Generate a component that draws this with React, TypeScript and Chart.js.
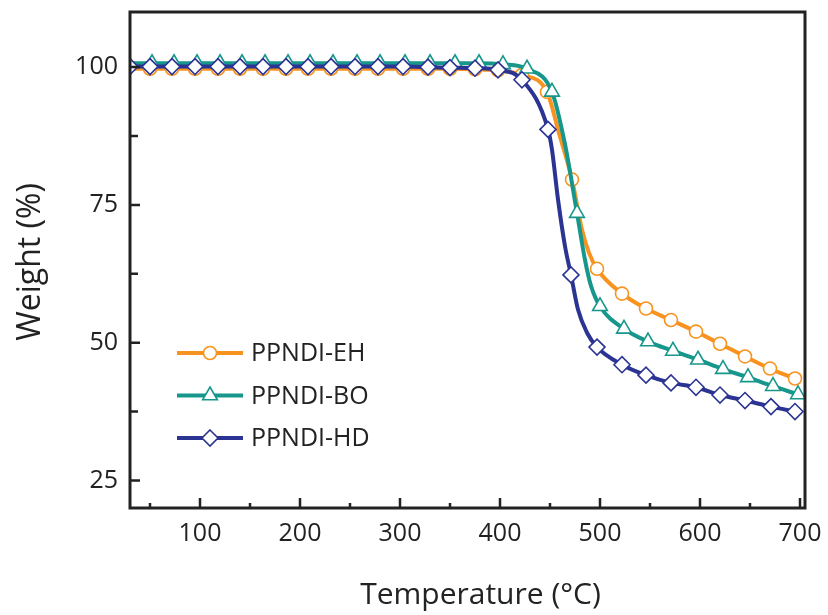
import React, { useEffect, useRef } from 'react';
import { Chart, registerables } from 'chart.js';

Chart.register(...registerables);

// ---- axis ticks ----
const xTicks = [100, 200, 300, 400, 500, 600, 700];
const xMinorTicks = [50, 150, 250, 350, 450, 550, 650];
const yTicks = [25, 50, 75, 100];
const yMinorTicks = [37.5, 62.5, 87.5];
const xRange = [30, 705];
const yRange = [20, 110];

const xTitle = 'Temperature (°C)';
const yTitle = 'Weight (%)';

// ---- series ----
const seriesNames = ['PPNDI-EH', 'PPNDI-BO', 'PPNDI-HD'];
const seriesColors = ['#F7931E', '#17978C', '#2B3493'];
const seriesMarkers = ['circle', 'triangle', 'rectRot'];

// PPNDI-EH : marker points
const ehMarkT = [50, 72, 95, 118, 140, 163, 186, 208, 231, 255, 278, 303, 328, 350, 375, 398, 422, 447, 472, 497, 522, 546, 571, 596, 620, 645, 670, 695];
const ehMarkW = [99.7, 99.7, 99.7, 99.7, 99.7, 99.7, 99.7, 99.7, 99.7, 99.7, 99.7, 99.7, 99.7, 99.7, 99.6, 99.4, 98.6, 95.5, 79.6, 63.4, 58.9, 56.2, 54.1, 52.0, 49.8, 47.5, 45.3, 43.5];
// PPNDI-EH : extra curve points (no marker)
const ehCurveT = [30, 459, 482, 489];
const ehCurveW = [99.7, 88.0, 70.5, 66.3];

// PPNDI-BO : marker points
const boMarkT = [52, 74, 97, 120, 142, 165, 188, 210, 233, 257, 280, 305, 330, 355, 379, 403, 427, 452, 477, 500, 524, 548, 573, 598, 623, 648, 673, 698];
const boMarkW = [100.7, 100.7, 100.7, 100.7, 100.7, 100.7, 100.7, 100.7, 100.7, 100.7, 100.7, 100.7, 100.7, 100.7, 100.7, 100.5, 99.7, 95.5, 73.5, 56.6, 52.5, 50.2, 48.5, 46.9, 45.2, 43.7, 42.1, 40.6];
// PPNDI-BO : extra curve points
const boCurveT = [30, 465, 485, 491];
const boCurveW = [100.7, 86.0, 65.0, 60.3];

// PPNDI-HD : marker points
const hdMarkT = [30, 50, 72, 95, 118, 140, 163, 186, 208, 231, 255, 278, 303, 328, 350, 375, 398, 422, 448, 471, 497, 522, 546, 571, 596, 620, 645, 671, 695];
const hdMarkW = [100.1, 100.1, 100.1, 100.1, 100.1, 100.1, 100.1, 100.1, 100.1, 100.1, 100.1, 100.1, 100.1, 100.0, 99.9, 99.8, 99.5, 97.7, 88.7, 62.3, 49.2, 46.0, 44.1, 42.7, 41.9, 40.5, 39.5, 38.4, 37.5];
// PPNDI-HD : extra curve points
const hdCurveT = [452, 458, 465, 478, 487];
const hdCurveW = [85.0, 76.0, 67.5, 56.0, 51.8];

const markT = [ehMarkT, boMarkT, hdMarkT];
const markW = [ehMarkW, boMarkW, hdMarkW];
const curveT = [ehCurveT, boCurveT, hdCurveT];
const curveW = [ehCurveW, boCurveW, hdCurveW];
const markerRadius = [6.5, 8.5, 8];

const FONT = '"Open Sans", "Liberation Sans", sans-serif';
const INK = '#222222';

function pts(t: number[], w: number[]) {
  return t.map((x, i) => ({ x, y: w[i] }));
}

function drawMarker(ctx: CanvasRenderingContext2D, style: string, r: number, x: number, y: number) {
  ctx.beginPath();
  if (style === 'circle') {
    ctx.arc(x, y, r, 0, Math.PI * 2);
  } else if (style === 'triangle') {
    for (let k = 0; k < 3; k++) {
      const a = -Math.PI / 2 + (k * 2 * Math.PI) / 3;
      const px = x + Math.cos(a) * r;
      const py = y + Math.sin(a) * r;
      if (k === 0) ctx.moveTo(px, py);
      else ctx.lineTo(px, py);
    }
    ctx.closePath();
  } else {
    ctx.moveTo(x, y - r);
    ctx.lineTo(x + r, y);
    ctx.lineTo(x, y + r);
    ctx.lineTo(x - r, y);
    ctx.closePath();
  }
  ctx.fill();
  ctx.stroke();
}

const framePlugin = {
  id: 'frameAndExtras',
  afterDraw(chart: any) {
    const { ctx, chartArea } = chart;
    const xs = chart.scales.x;
    const ys = chart.scales.y;
    const { left, right, top, bottom } = chartArea;
    ctx.save();
    // ticks (inward)
    ctx.strokeStyle = INK;
    ctx.lineWidth = 2.5;
    ctx.beginPath();
    xTicks.forEach((v) => {
      const p = xs.getPixelForValue(v);
      ctx.moveTo(p, bottom);
      ctx.lineTo(p, bottom - 10);
    });
    xMinorTicks.forEach((v) => {
      const p = xs.getPixelForValue(v);
      ctx.moveTo(p, bottom);
      ctx.lineTo(p, bottom - 5);
    });
    yTicks.forEach((v) => {
      const p = ys.getPixelForValue(v);
      ctx.moveTo(left, p);
      ctx.lineTo(left + 10, p);
    });
    yMinorTicks.forEach((v) => {
      const p = ys.getPixelForValue(v);
      ctx.moveTo(left, p);
      ctx.lineTo(left + 8, p);
    });
    ctx.stroke();
    // frame
    ctx.lineWidth = 3;
    ctx.strokeRect(left, top, right - left, bottom - top);

    // legend
    const legX0 = left + 47;
    const legX1 = left + 113;
    const legY0 = top + 341;
    const legDy = 42.5;
    seriesNames.forEach((name, i) => {
      const y = legY0 + i * legDy;
      ctx.strokeStyle = seriesColors[i];
      ctx.lineWidth = 4;
      ctx.beginPath();
      ctx.moveTo(legX0, y);
      ctx.lineTo(legX1, y);
      ctx.stroke();
      ctx.fillStyle = '#ffffff';
      ctx.strokeStyle = seriesColors[i];
      ctx.lineWidth = 1.6;
      drawMarker(ctx, seriesMarkers[i], markerRadius[i], (legX0 + legX1) / 2, y);
      ctx.fillStyle = INK;
      ctx.font = `25px ${FONT}`;
      ctx.textAlign = 'left';
      ctx.textBaseline = 'middle';
      ctx.fillText(name, legX1 + 8, y + 1);
    });

    // axis titles
    ctx.fillStyle = INK;
    ctx.font = `30px ${FONT}`;
    ctx.textAlign = 'center';
    ctx.textBaseline = 'middle';
    ctx.fillText(xTitle, (left + right) / 2 + 13, 595);
    ctx.save();
    ctx.translate(31, (top + bottom) / 2 + 2);
    ctx.rotate(-Math.PI / 2);
    ctx.font = `32px ${FONT}`;
    ctx.fillText(yTitle, 0, 0);
    ctx.restore();
    ctx.restore();
  },
};

export default function App() {
  const ref = useRef<HTMLCanvasElement>(null);
  useEffect(() => {
    const canvas = ref.current;
    if (!canvas) return;
    const datasets: any[] = [];
    seriesNames.forEach((name, i) => {
      const line = pts(markT[i], markW[i]).concat(pts(curveT[i], curveW[i])).sort((a, b) => a.x - b.x);
      datasets.push({
        label: name + ' line',
        data: line,
        borderColor: seriesColors[i],
        borderWidth: 4,
        pointRadius: 0,
        fill: false,
        cubicInterpolationMode: 'monotone',
        order: 10 - i * 2,
      });
      datasets.push({
        label: name,
        data: pts(markT[i], markW[i]),
        showLine: false,
        pointStyle: seriesMarkers[i],
        pointRadius: markerRadius[i],
        pointBackgroundColor: '#ffffff',
        pointBorderColor: seriesColors[i],
        pointBorderWidth: 1.6,
        order: 9 - i * 2,
      });
    });
    const chart = new Chart(canvas, {
      type: 'line',
      data: { datasets },
      plugins: [framePlugin],
      options: {
        animation: false,
        responsive: true,
        maintainAspectRatio: false,
        layout: { padding: { top: 12, right: 23, left: 0, bottom: 0 } },
        plugins: { legend: { display: false }, tooltip: { enabled: false } },
        scales: {
          x: {
            type: 'linear',
            min: xRange[0],
            max: xRange[1],
            grid: { display: false, drawTicks: false },
            border: { display: false },
            afterBuildTicks: (s: any) => {
              s.ticks = xTicks.map((v) => ({ value: v }));
            },
            afterFit: (s: any) => {
              s.height = 107;
              s.paddingLeft = 0;
              s.paddingRight = 0;
              s.paddingTop = 0;
              s.paddingBottom = 0;
            },
            ticks: {
              padding: 11,
              color: INK,
              font: { family: FONT, size: 25 },
              maxRotation: 0,
              autoSkip: false,
            },
          },
          y: {
            type: 'linear',
            min: yRange[0],
            max: yRange[1],
            grid: { display: false, drawTicks: false },
            border: { display: false },
            afterBuildTicks: (s: any) => {
              s.ticks = yTicks.map((v) => ({ value: v }));
            },
            afterFit: (s: any) => {
              s.width = 130;
              s.paddingLeft = 0;
              s.paddingRight = 0;
              s.paddingTop = 0;
              s.paddingBottom = 0;
            },
            ticks: {
              padding: 12,
              color: INK,
              font: { family: FONT, size: 25 },
              autoSkip: false,
            },
          },
        },
      },
    });
    return () => chart.destroy();
  }, []);
  return (
    <div style={{ position: 'fixed', left: 0, top: 0, width: 828, height: 615, background: '#fff' }}>
      <canvas ref={ref} />
    </div>
  );
}
